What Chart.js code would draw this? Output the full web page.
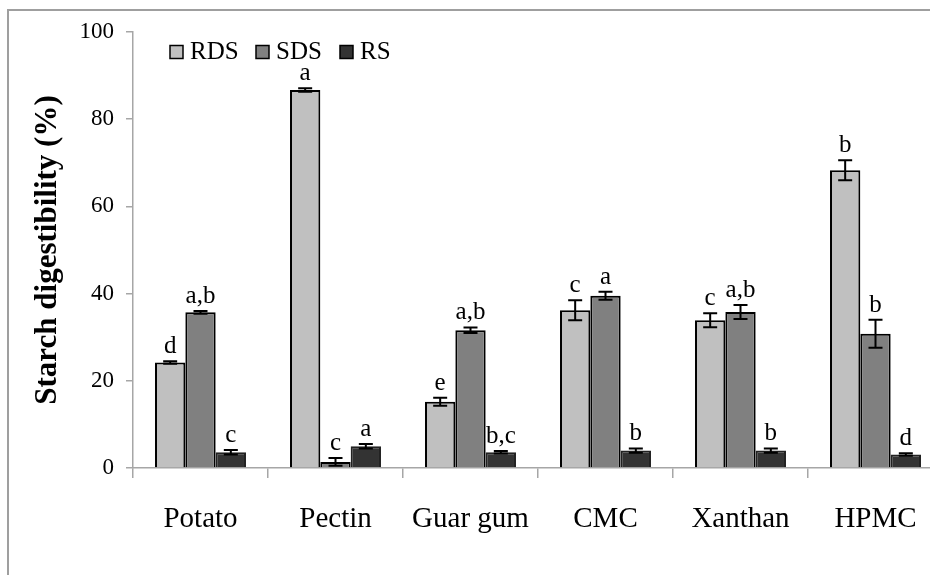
<!DOCTYPE html>
<html>
<head>
<meta charset="utf-8">
<script src="https://cdn.jsdelivr.net/npm/chart.js@4"></script>
<style>
html,body{margin:0;padding:0;background:#fff;overflow:hidden;width:930px;height:575px;}
#frame{position:absolute;left:7px;top:9px;width:1000px;height:700px;border-top:2px solid #9f9f9f;border-left:2px solid #9f9f9f;}
#c{position:absolute;left:0;top:0;}
</style>
</head>
<body>
<div id="frame"></div>
<canvas id="c" width="950" height="575"></canvas>
<script>
const categories = ['Potato', 'Pectin', 'Guar gum', 'CMC', 'Xanthan', 'HPMC'];
const seriesNames = ['RDS', 'SDS', 'RS'];
const rds = [24.2, 86.7, 15.2, 36.2, 33.9, 68.3];
const sds = [35.7, 1.4, 31.6, 39.5, 35.8, 30.8];
const rs = [3.6, 5.0, 3.6, 4.0, 4.0, 3.1];
const rdsErr = [0.3, 0.4, 0.9, 2.3, 1.6, 2.3];
const sdsErr = [0.3, 0.9, 0.65, 0.9, 1.6, 3.2];
const rsErr = [0.5, 0.5, 0.3, 0.5, 0.5, 0.3];
const rdsLetters = ['d', 'a', 'e', 'c', 'c', 'b'];
const sdsLetters = ['a,b', 'c', 'a,b', 'a', 'a,b', 'b'];
const rsLetters = ['c', 'a', 'b,c', 'b', 'b', 'd'];
const yTicks = [0, 20, 40, 60, 80, 100];

const colors = ['#c0c0c0', '#808080', '#333333'];
const errs = [rdsErr, sdsErr, rsErr];
const letters = [rdsLetters, sdsLetters, rsLetters];
const serif = "'Liberation Serif', 'Times New Roman', serif";

const errorPlugin = {
  id: 'errs',
  afterDatasetsDraw(chart) {
    const ctx = chart.ctx;
    const y = chart.scales.y;
    ctx.save();
    chart.data.datasets.forEach((ds, i) => {
      const meta = chart.getDatasetMeta(i);
      meta.data.forEach((bar, j) => {
        const v = ds.data[j];
        const e = errs[i][j];
        const yt = y.getPixelForValue(v + e);
        const yb = y.getPixelForValue(v - e);
        const x = bar.x;
        ctx.strokeStyle = '#000';
        ctx.lineWidth = 2;
        ctx.beginPath();
        ctx.moveTo(x, yt); ctx.lineTo(x, yb);
        ctx.moveTo(x - 7, yt); ctx.lineTo(x + 7, yt);
        ctx.moveTo(x - 7, yb); ctx.lineTo(x + 7, yb);
        ctx.stroke();
        ctx.fillStyle = '#000';
        ctx.font = '25px ' + serif;
        ctx.textAlign = 'center';
        ctx.textBaseline = 'alphabetic';
        ctx.fillText(letters[i][j], x, yt - 8);
      });
    });
    ctx.restore();
  }
};

const legendPlugin = {
  id: 'customLegend',
  afterDraw(chart) {
    const ctx = chart.ctx;
    ctx.save();
    const boxX = [170, 256, 340];
    chart.data.datasets.forEach((ds, i) => {
      ctx.fillStyle = ds.backgroundColor;
      ctx.fillRect(boxX[i], 45.5, 13, 13);
      ctx.strokeStyle = '#000';
      ctx.lineWidth = 1.5;
      ctx.strokeRect(boxX[i], 45.5, 13, 13);
      ctx.fillStyle = '#000';
      ctx.font = '25px ' + serif;
      ctx.textAlign = 'left';
      ctx.textBaseline = 'alphabetic';
      ctx.fillText(ds.label, boxX[i] + 20, 59);
    });
    ctx.restore();
  }
};

new Chart(document.getElementById('c'), {
  type: 'bar',
  data: {
    labels: categories,
    datasets: [
      { label: seriesNames[0], data: rds, backgroundColor: colors[0], borderColor: '#000', borderWidth: 2 },
      { label: seriesNames[1], data: sds, backgroundColor: colors[1], borderColor: '#000', borderWidth: 2 },
      { label: seriesNames[2], data: rs, backgroundColor: colors[2], borderColor: '#222', borderWidth: 2 }
    ]
  },
  options: {
    responsive: false,
    animation: false,
    devicePixelRatio: 1,
    layout: { padding: { top: 32, right: 7, left: 0, bottom: 0 } },
    datasets: { bar: { categoryPercentage: 0.674, barPercentage: 1.0 } },
    plugins: { legend: { display: false }, tooltip: { enabled: false } },
    scales: {
      x: {
        grid: { drawOnChartArea: false, drawTicks: true, tickLength: 10, color: '#a6a6a6', lineWidth: 1.5, offset: true },
        border: { color: '#a6a6a6', width: 1.5 },
        ticks: { color: '#000', font: { family: serif, size: 29 }, padding: 24, maxRotation: 0, autoSkip: false },
        afterFit(s) { s.height = 107; }
      },
      y: {
        min: 0, max: 100,
        afterBuildTicks(s) { s.ticks = yTicks.map(v => ({ value: v })); },
        grid: { drawOnChartArea: false, drawTicks: true, tickLength: 7, color: '#a6a6a6', lineWidth: 1.5 },
        border: { color: '#a6a6a6', width: 1.5 },
        ticks: { color: '#000', font: { family: serif, size: 23 }, padding: 12 },
        title: { display: true, text: 'Starch digestibility (%)', color: '#000', font: { family: serif, size: 31, weight: 'bold' }, padding: { top: 29, bottom: 0 } },
        afterFit(s) { s.width = 133; }
      }
    }
  },
  plugins: [errorPlugin, legendPlugin]
});
</script>
</body>
</html>
